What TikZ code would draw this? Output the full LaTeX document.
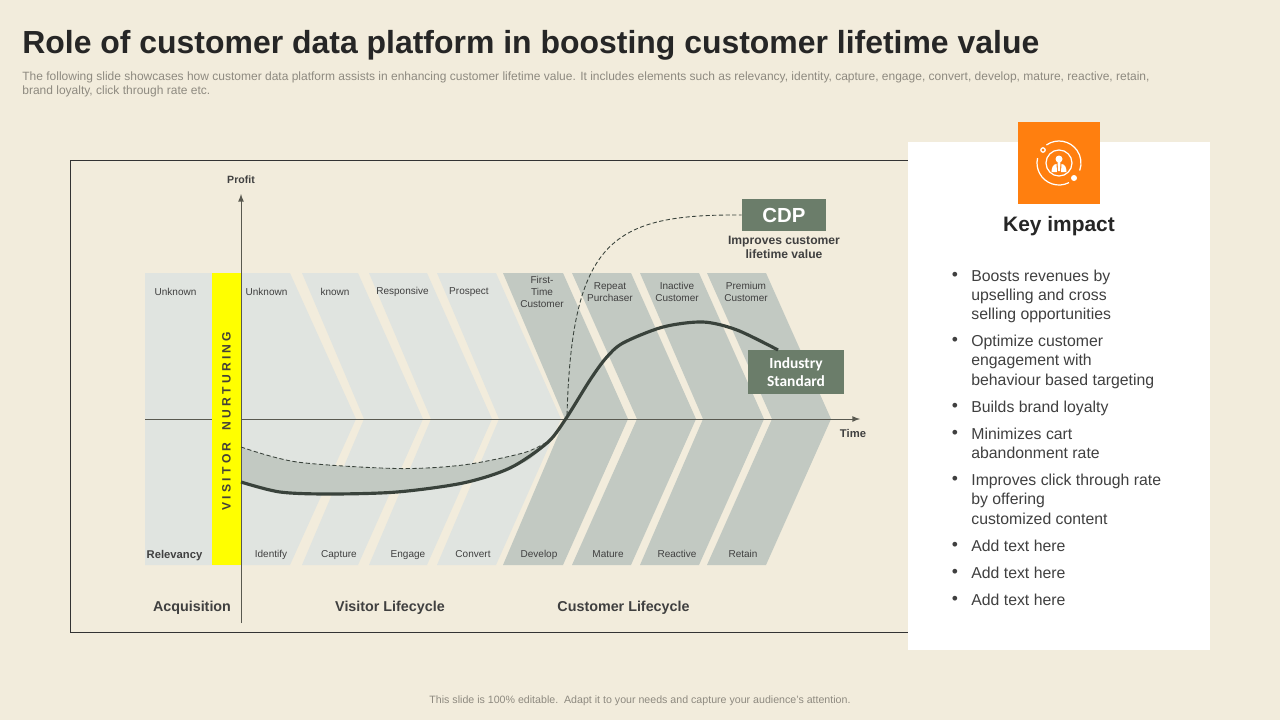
\documentclass[tikz,border=0pt]{standalone}
\usepackage{fontspec}
\setmainfont{Liberation Sans}
\newfontfamily\nurturefont[LetterSpace=27]{Liberation Sans}
\newfontfamily\boxfont{Carlito}
\definecolor{slidebg}{HTML}{F2ECDC}
\definecolor{lightband}{HTML}{E0E4E0}
\definecolor{darkband}{HTML}{C2C9C2}
\definecolor{sagebox}{HTML}{6B7D6A}
\definecolor{curveline}{HTML}{39423B}
\definecolor{axisline}{HTML}{595950}
\definecolor{labeltext}{HTML}{404040}
\definecolor{greytext}{HTML}{8E8A80}
\definecolor{iconbg}{HTML}{FF7F0F}
\definecolor{nurtureband}{HTML}{FFFF00}
\tikzset{
  steplabel/.style={text=labeltext,font=\fontsize{5.7}{6.6}\selectfont,align=center,inner sep=0pt},
  footlabel/.style={steplabel,anchor=base},
  phaselabel/.style={text=labeltext,font=\fontsize{8.15}{9}\selectfont\bfseries,inner sep=0pt},
  keytext/.style={text=labeltext,font=\fontsize{9}{10.9}\selectfont,align=left,anchor=north west,inner sep=0pt},
  keydot/.style={text=labeltext,font=\fontsize{10}{10.9}\selectfont,anchor=north,inner sep=0pt},
  greynote/.style={text=greytext,font=\fontsize{6.83}{8}\selectfont,align=left,inner sep=0pt},
  sagenode/.style={fill=sagebox,text=white,inner sep=0pt,align=center}
}
\begin{document}
\begin{tikzpicture}[x=0.02cm,y=-0.02cm]
  \useasboundingbox (0,0) rectangle (1280,720);
  \fill[slidebg] (0,0) rectangle (1280,720);

  \node[anchor=west,inner sep=0pt,text=black!85,font=\fontsize{18.18}{20}\selectfont\bfseries] (title) at (22,45) {Role of customer data platform in boosting customer lifetime value};
  \node[greynote,anchor=north west] (intro) at (22,71) {The following slide showcases how customer data platform assists in enhancing customer lifetime value. It includes elements such as relevancy, identity, capture, engage, convert, develop, mature, reactive, retain,\\brand loyalty, click through rate etc.};

  \draw[black!80,line width=0.5pt] (70,160) rectangle (940,632);

  % light bands
  \fill[lightband] (145,273) -- (290,273) -- (356,419) -- (290,565) -- (145,565) -- cycle;
  \fill[lightband] (302,273) -- (358,273) -- (423,419) -- (358,565) -- (302,565) -- (364,419) -- cycle;
  \fill[lightband] (369,273) -- (427,273) -- (492,419) -- (427,565) -- (369,565) -- (431,419) -- cycle;
  \fill[lightband] (437,273) -- (496,273) -- (561,419) -- (496,565) -- (437,565) -- (499,419) -- cycle;

  % dark bands
  \fill[darkband] (503,273) -- (563,273) -- (628,419) -- (563,565) -- (503,565) -- (565,419) -- cycle;
  \fill[darkband] (572,273) -- (631,273) -- (696,419) -- (631,565) -- (572,565) -- (637,419) -- cycle;
  \fill[darkband] (640,273) -- (699,273) -- (764,419) -- (699,565) -- (640,565) -- (703,419) -- cycle;
  \fill[darkband] (707,273) -- (766,273) -- (831,419) -- (766,565) -- (707,565) -- (772,419) -- cycle;

  % gap between the two curves
  \fill[darkband] plot[smooth,tension=0.5] coordinates {(241,447) (297,462) (397,468.5) (463,465) (523,453) (547,442) (560,427)} -- plot[smooth,tension=0.5] coordinates {(560,427) (547,443) (523,463) (463,483) (397,492) (330,494) (280,492) (241,482)} -- cycle;

  \coordinate (timestart) at (145,419);
  \coordinate (timeend) at (860,419);
  \draw[axisline,line width=0.5pt,-latex] (timestart) -- (timeend);

  \node[fill=nurtureband,minimum width=29*0.02cm,minimum height=292*0.02cm,inner sep=0pt] (nurture) at (226.5,419) {};
  \node[rotate=90,text=black!85!yellow,font=\fontsize{6.9}{8}\nurturefont\bfseries] (nurturetext) at (226.5,421) {VISITOR\hspace{3pt} NURTURING};

  \coordinate (profitstart) at (241,623);
  \coordinate (profitend) at (241,194);
  \draw[axisline,line width=0.5pt,-latex] (profitstart) -- (profitend);

  % the two curves
  \node[sagenode,minimum width=84*0.02cm,minimum height=32*0.02cm,font=\fontsize{11.6}{13}\selectfont\bfseries] (cdp) at (784,215) {CDP};
  \node[sagenode,minimum width=96*0.02cm,minimum height=44*0.02cm,font=\fontsize{8.8}{10.2}\boxfont\bfseries] (industry) at (796,372) {Industry\\Standard};
  \coordinate (curveend) at (778,350);
  \draw[curveline,line width=1.8pt] plot[smooth,tension=0.5] coordinates {(241,482) (280,492) (330,494) (397,492) (463,483) (510,468) (547,443) (565,420) (590,380) (606,358) (623,343) (663,327) (703,322) (737,330) (curveend)};
  \draw[curveline,line width=0.5pt,dash pattern=on 2.4pt off 1.4pt] plot[smooth,tension=0.5] coordinates {(241,447) (297,462) (397,468.5) (463,465) (523,453) (547,442)};
  \draw[curveline,line width=0.5pt,dash pattern=on 2.4pt off 1.4pt] (567,415) .. controls (572,240) and (612,214) .. (cdp.west);

  \node[text=labeltext,font=\fontsize{6.9}{8}\selectfont\bfseries,inner sep=0pt,align=center] (cdpnote) at (784,247) {Improves customer\\lifetime value};
  \node[steplabel,font=\fontsize{6}{7}\selectfont\bfseries] (profit) at (241,179.5) {Profit};
  \node[steplabel,font=\fontsize{6.4}{7}\selectfont\bfseries] (time) at (853,433) {Time};

  % top labels
  \node[steplabel] (unknownone) at (175.5,292) {Unknown};
  \node[steplabel] (unknowntwo) at (266.5,292) {Unknown};
  \node[steplabel] (known) at (335,292) {known};
  \node[steplabel] (responsive) at (402.5,292) {Responsive};
  \node[steplabel] (prospect) at (469,292) {Prospect};
  \node[steplabel] (firsttime) at (542,292) {First-\\Time\\Customer};
  \node[steplabel] (repeat) at (610,292) {Repeat\\Purchaser};
  \node[steplabel] (inactive) at (677,292) {Inactive\\Customer};
  \node[steplabel] (premium) at (746,292) {Premium\\Customer};

  % bottom labels
  \node[footlabel,font=\fontsize{6.4}{7}\selectfont\bfseries] (relevancy) at (174.5,558) {Relevancy};
  \node[footlabel] (identify) at (271,557.5) {Identify};
  \node[footlabel] (capture) at (339,557.5) {Capture};
  \node[footlabel] (engage) at (408,557.5) {Engage};
  \node[footlabel] (convert) at (473,557.5) {Convert};
  \node[footlabel] (develop) at (539,557.5) {Develop};
  \node[footlabel] (mature) at (608,557.5) {Mature};
  \node[footlabel] (reactive) at (677,557.5) {Reactive};
  \node[footlabel] (retain) at (743,557.5) {Retain};

  \node[phaselabel,anchor=base] (acquisition) at (192,611) {Acquisition};
  \node[phaselabel,anchor=base] (visitor) at (390,611) {Visitor Lifecycle};
  \node[phaselabel,anchor=base] (customer) at (623.5,611) {Customer Lifecycle};

  % key impact panel
  \fill[white] (908,142) rectangle (1210,650);
  \fill[iconbg] (1018,122) rectangle (1100,204);
  \draw[white,line width=0.7pt] (1059,163) circle [radius=13];
  \draw[white,line width=0.7pt] (1059,163) ++(-125:22) arc [start angle=-125, end angle=20, radius=22];
  \draw[white,line width=0.7pt] (1059,163) ++(63:22) arc [start angle=63, end angle=193, radius=22];
  \draw[white,line width=0.7pt] (1043,150) circle [radius=2.2];
  \fill[white] (1074,178) circle [radius=3];
  \fill[white] (1059,159) circle [radius=3.5];
  \fill[white] (1057.5,161) -- (1060.5,161) -- (1060,171) -- (1058,171) -- cycle;
  \fill[white] (1056.5,164) .. controls (1053,164) and (1051.5,168) .. (1051.5,172) -- (1057,172) -- cycle;
  \fill[white] (1061.5,164) .. controls (1065,164) and (1066.5,168) .. (1066.5,172) -- (1061,172) -- cycle;

  \node[inner sep=0pt,text=black!85,font=\fontsize{11.9}{13}\selectfont\bfseries] (keyimpact) at (1059,226) {Key impact};

  \node[keydot] (dotone) at (955,272) {•};
  \node[keytext] (boosts) at (971,269.5) {Boosts revenues by\\upselling and cross\\selling opportunities};
  \node[keydot] (dottwo) at (955,337) {•};
  \node[keytext] (optimize) at (971,335) {Optimize customer\\engagement with\\behaviour based targeting};
  \node[keydot] (dotthree) at (955,403) {•};
  \node[keytext] (loyalty) at (971,401) {Builds brand loyalty};
  \node[keydot] (dotfour) at (955,430) {•};
  \node[keytext] (minimizes) at (971,428) {Minimizes cart\\abandonment rate};
  \node[keydot] (dotfive) at (955,476) {•};
  \node[keytext] (click) at (971,474) {Improves click through rate\\by offering\\customized content};
  \node[keydot] (dotsix) at (955,542) {•};
  \node[keytext] (addone) at (971,540) {Add text here};
  \node[keydot] (dotseven) at (955,569) {•};
  \node[keytext] (addtwo) at (971,567) {Add text here};
  \node[keydot] (doteight) at (955,596) {•};
  \node[keytext] (addthree) at (971,594) {Add text here};

  \node[greynote,font=\fontsize{6.05}{7}\selectfont] (footer) at (640,701) {This slide is 100\% editable.\ \ Adapt it to your needs and capture your audience's attention.};
\end{tikzpicture}
\end{document}
